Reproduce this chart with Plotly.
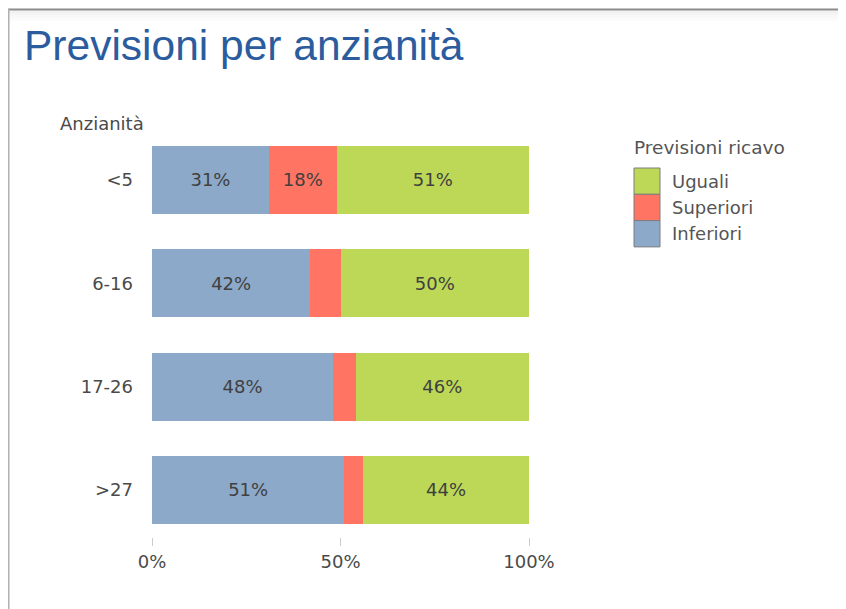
import plotly.graph_objects as go

# ---- data ----
categories = ["<5", "6-16", "17-26", ">27"]
series_names = ["Inferiori", "Superiori", "Uguali"]
inferiori = [31, 42, 48, 51]
superiori = [18, 8, 6, 5]
uguali = [51, 50, 46, 44]
x_ticks = [0, 50, 100]
x_tick_labels = ["0%", "50%", "100%"]

values = {"Inferiori": inferiori, "Superiori": superiori, "Uguali": uguali}
colors = {"Inferiori": "#8DA9C9", "Superiori": "#FF7462", "Uguali": "#BCD856"}

OFF = 8  # page body margin offset
W, H = 846, 609
# plot area in reference (screen) pixels: x 152..529, y 128..537
L = 152 - OFF
T = 128 - OFF
R = W - (529 - OFF)
B = H - (537 - OFF)
PW, PH = W - L - R, H - T - B
FONT = "DejaVu Sans"


def px(x):
    return (x - OFF - L) / PW


def py(y):
    return (H - B - (y - OFF)) / PH


fig = go.Figure()
for name in series_names:
    vals = values[name]
    fig.add_trace(go.Bar(
        y=categories, x=vals, name=name, orientation="h",
        marker=dict(color=colors[name], line=dict(width=0)),
        text=[f"{v}%" if v >= 10 else "" for v in vals],
        textposition="inside", insidetextanchor="middle", textangle=0,
        textfont=dict(family=FONT, size=18, color="#404040"),
        hoverinfo="skip", showlegend=False,
    ))

shapes = []
# frame: top and left borders with light inner shading
for i, c in enumerate(["#f1f1f1", "#f4f4f4", "#f7f7f7", "#fafafa", "#fcfcfc"]):
    shapes.append(dict(type="rect", xref="paper", yref="paper",
                       x0=px(9), x1=px(W + OFF), y0=py(11 + 2 * i), y1=py(13 + 2 * i),
                       fillcolor=c, line=dict(width=0), layer="below"))
shapes.append(dict(type="line", xref="paper", yref="paper",
                   x0=px(8), x1=px(W + OFF), y0=py(9.5), y1=py(9.5),
                   line=dict(color="#8a8a8a", width=2)))
shapes.append(dict(type="line", xref="paper", yref="paper",
                   x0=px(8.75), x1=px(8.75), y0=py(9), y1=py(H + OFF),
                   line=dict(color="#b0b0b0", width=1.5)))

# legend (manual, stacked swatches)
legend_order = ["Uguali", "Superiori", "Inferiori"]
sw_top, sw_h = 168, 26.3
annotations = []
for i, name in enumerate(legend_order):
    y0 = sw_top + i * sw_h
    shapes.append(dict(type="rect", xref="paper", yref="paper",
                       x0=px(634), x1=px(660), y0=py(y0 + sw_h), y1=py(y0),
                       fillcolor=colors[name], line=dict(color="#7d7d7d", width=1)))
    annotations.append(dict(xref="paper", yref="paper", x=px(670), y=py(y0 + sw_h / 2),
                            text=name, showarrow=False, xanchor="left", yanchor="middle",
                            font=dict(family=FONT, size=18, color="#555555")))
annotations.append(dict(xref="paper", yref="paper", x=px(632), y=py(147),
                        text="Previsioni ricavo", showarrow=False, xanchor="left",
                        yanchor="middle", font=dict(family=FONT, size=18.5, color="#555555")))
# axis title
annotations.append(dict(xref="paper", yref="paper", x=px(58), y=py(123),
                        text="Anzianità", showarrow=False, xanchor="left",
                        yanchor="middle", font=dict(family=FONT, size=18, color="#4a4a4a")))
# chart title
annotations.append(dict(xref="paper", yref="paper", x=px(22), y=py(45),
                        text="Previsioni per anzianità", showarrow=False, xanchor="left",
                        yanchor="middle",
                        font=dict(family="Liberation Sans", size=42.5, color="#2A5C9E")))

fig.update_layout(
    width=W, height=H, barmode="stack", bargap=0.34,
    margin=dict(l=L, r=R, t=T, b=B, pad=0),
    paper_bgcolor="white", plot_bgcolor="white",
    font=dict(family=FONT, size=18, color="#444444"),
    shapes=shapes, annotations=annotations, showlegend=False,
    xaxis=dict(range=[0, 100], tickvals=x_ticks, ticktext=x_tick_labels,
               showgrid=False, zeroline=False, showline=False,
               ticks="outside", ticklen=8, tickcolor="#cccccc", tickwidth=1,
               tickfont=dict(family=FONT, size=18, color="#4a4a4a"), fixedrange=True),
    yaxis=dict(categoryorder="array", categoryarray=categories,
               range=[3.455, -0.503], showgrid=False, zeroline=False, showline=False,
               ticks="", ticklabelstandoff=18,
               tickfont=dict(family=FONT, size=18, color="#4a4a4a"), fixedrange=True),
)

fig.write_html("out.html")
